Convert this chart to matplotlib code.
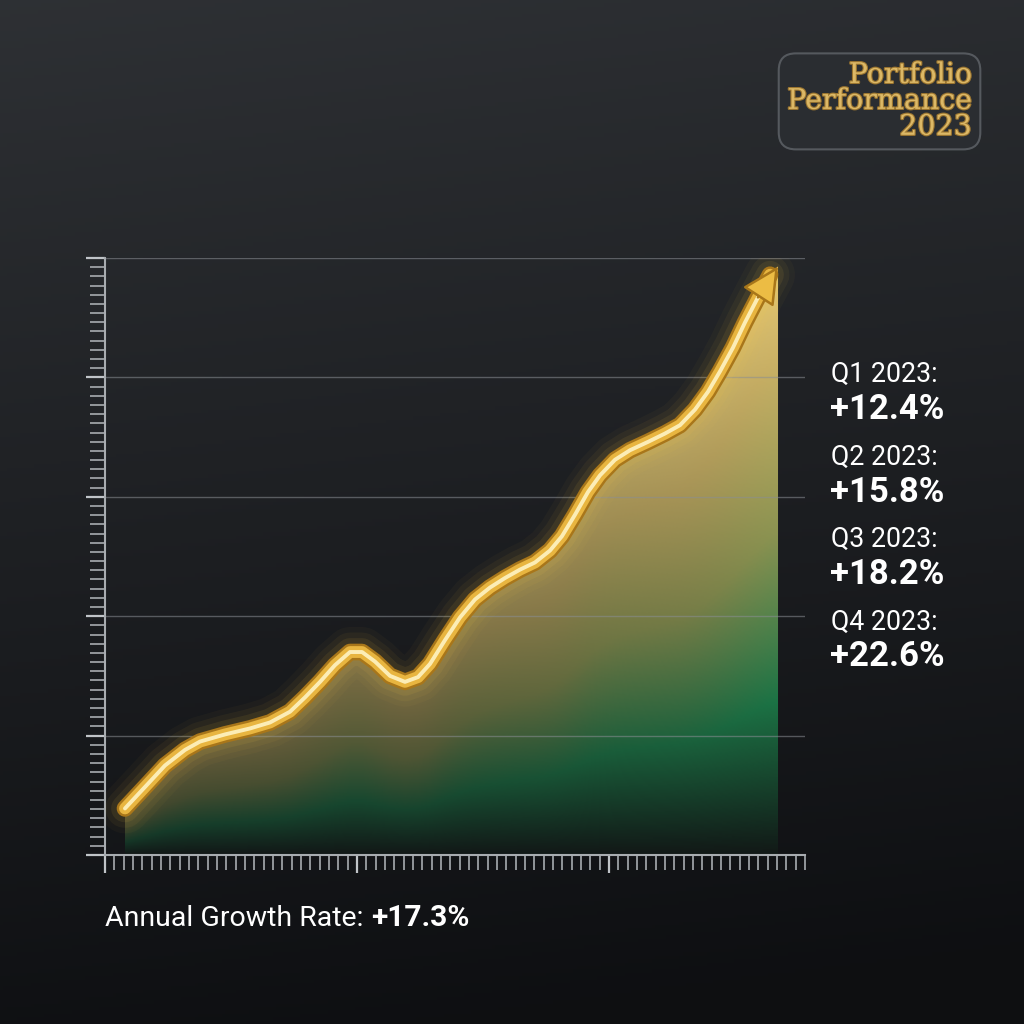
import numpy as np
import matplotlib
matplotlib.use("Agg")
import matplotlib.pyplot as plt
import matplotlib.patheffects as pe
from matplotlib.patches import FancyArrowPatch
from matplotlib.ticker import MultipleLocator
from matplotlib.colors import LinearSegmentedColormap

# data (x: period index, y: portfolio index level)
period = [2.14, 4.29, 6.43, 8.57, 10.18, 12.86, 15.54, 17.68, 19.82, 21.43,
          23.04, 24.64, 26.25, 27.54, 28.93, 30.54, 32.14, 33.54, 34.82, 36.43,
          38.04, 39.64, 41.25, 42.86, 44.46, 46.07, 47.68, 48.96, 50.36, 51.75,
          53.04, 54.64, 56.25, 58.18, 60.00, 61.61, 63.21, 64.61, 65.89, 67.29,
          68.57, 69.96, 71.25, 72.11]
level = [0.39, 0.57, 0.75, 0.88, 0.95, 1.01, 1.06, 1.11, 1.20, 1.32,
         1.45, 1.59, 1.70, 1.70, 1.62, 1.50, 1.45, 1.49, 1.60, 1.80,
         1.99, 2.14, 2.24, 2.32, 2.39, 2.45, 2.55, 2.67, 2.85, 3.04,
         3.18, 3.31, 3.39, 3.46, 3.53, 3.60, 3.73, 3.88, 4.05, 4.25,
         4.46, 4.67, 4.86, 4.93]

quarters = ["Q1 2023:", "Q2 2023:", "Q3 2023:", "Q4 2023:"]
quarter_growth = ["+12.4%", "+15.8%", "+18.2%", "+22.6%"]
annual_label = "Annual Growth Rate: "
annual_growth = "+17.3%"
title = "Portfolio\nPerformance\n2023"

x = np.array(period)
y = np.array(level)

fig = plt.figure(figsize=(10.24, 10.24), dpi=100)

# background gradient (lighter top-left, dark bottom)
bg_ax = fig.add_axes([0, 0, 1, 1], zorder=-10)
bg_ax.axis("off")
gy, gx = np.mgrid[0:1:300j, 0:1:300j]
top = np.array([0.18, 0.19, 0.205])
bot = np.array([0.055, 0.06, 0.07])
t = np.clip(gy * 0.95 + 0.12 * gx, 0, 1)[..., None]
bg = top * (1 - t) + bot * t
bg_ax.imshow(bg, extent=[0, 1, 0, 1], aspect="auto", origin="upper")

ax = fig.add_axes([105 / 1024, 169 / 1024, 700 / 1024, 597 / 1024])
ax.set_facecolor("none")
ax.set_xlim(0, 75)
ax.set_ylim(0, 5)

# gradient fill under the curve
xs = np.linspace(x[0], x[-1], 400)
ys = np.linspace(0, y.max(), 400)
XX, YY = np.meshgrid(xs, ys)
C = np.interp(XX, x, y)
r = np.clip(YY / C, 0, 1)
cmap = LinearSegmentedColormap.from_list(
    "fill", [(0.0, (0.07, 0.10, 0.09)), (0.26, (0.11, 0.45, 0.27)),
             (0.55, (0.55, 0.58, 0.32)), (0.85, (0.80, 0.70, 0.40)),
             (1.0, (0.90, 0.79, 0.46))])
rgb = cmap(r)[..., :3]
bright = (0.28 + 0.72 * (C / y.max()))[..., None]
dark = np.array([0.07, 0.09, 0.09])
rgb = dark + (rgb - dark) * bright
im = ax.imshow(rgb, extent=[x[0], x[-1], 0, y.max()], origin="lower",
               aspect="auto", zorder=1)
poly = ax.fill_between(x, y, 0, color="none", lw=0)
im.set_clip_path(poly.get_paths()[0], transform=ax.transData)

# glow + golden tube line (last point is the arrow tip)
lx, ly = x[:-1], y[:-1]
for lw, a in [(36, 0.03), (28, 0.05), (20, 0.08)]:
    ax.plot(lx, ly, color="#ffcc44", lw=lw, alpha=a, solid_capstyle="round",
            solid_joinstyle="round", zorder=3)
ax.plot(lx, ly, color="#a8761a", lw=12, solid_capstyle="round", solid_joinstyle="round", zorder=4)
ax.plot(lx, ly, color="#e8b540", lw=8.5, solid_capstyle="round", solid_joinstyle="round", zorder=5)
ax.plot(lx, ly, color="#fff4c4", lw=2.8, alpha=0.9, solid_capstyle="round",
        solid_joinstyle="round", zorder=6)
head = FancyArrowPatch(posA=(x[-3], y[-3]), posB=(x[-1], y[-1]),
                       arrowstyle="-|>,head_length=1.3,head_width=0.65",
                       mutation_scale=18, fc="#ecbc44", ec="#a8761a", lw=1.8,
                       shrinkA=0, shrinkB=0, zorder=7)
ax.add_patch(head)

# axes styling
for s in ["top", "right"]:
    ax.spines[s].set_visible(False)
for s in ["left", "bottom"]:
    ax.spines[s].set_color("#a8acb0")
    ax.spines[s].set_linewidth(1.5)
ax.yaxis.set_major_locator(MultipleLocator(1))
ax.yaxis.set_minor_locator(MultipleLocator(1 / 13))
ax.xaxis.set_major_locator(MultipleLocator(27))
ax.xaxis.set_minor_locator(MultipleLocator(1))
ax.tick_params(axis="y", which="major", length=14, width=1.6, color="#c0c4c8", labelleft=False)
ax.tick_params(axis="y", which="minor", length=11, width=1.2, color="#a8acb0")
ax.tick_params(axis="x", which="major", length=13, width=1.6, color="#c0c4c8", labelbottom=False)
ax.tick_params(axis="x", which="minor", length=11, width=1.2, color="#a8acb0")
ax.grid(axis="y", which="major", color="#8a8e94", lw=1, alpha=0.55, zorder=0)

# quarter annotations
for i, (q, g) in enumerate(zip(quarters, quarter_growth)):
    y0 = 0.634 - i * 0.0805
    fig.text(0.8115, y0, q, family="Roboto", fontsize=19.3, color="white", va="center")
    fig.text(0.8105, y0 - 0.034, g, family="Roboto", fontweight="bold", fontsize=25,
             color="white", va="center")

t1 = fig.text(0.103, 0.1035, annual_label, family="Roboto", fontsize=20.5,
              color="white", va="center")
ax.annotate(annual_growth, xy=(1, 0.5), xycoords=t1, family="Roboto",
            fontweight="bold", fontsize=21.5, color="white", va="center", ha="left")

fig.text(0.949, 0.901, title, family="DejaVu Serif", fontsize=20.5, color="#dcb866",
         ha="right", va="center", multialignment="right", linespacing=0.95,
         path_effects=[pe.withStroke(linewidth=1.6, foreground="#9c7630")],
         bbox=dict(boxstyle="round,pad=0.3,rounding_size=0.6", fc="#2a2d31",
                   ec="#55595e", lw=1.5))

fig.savefig("out.png", dpi=100)
